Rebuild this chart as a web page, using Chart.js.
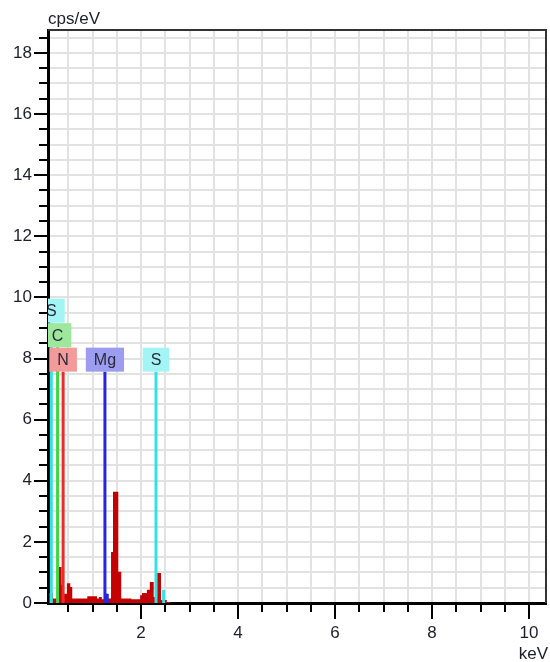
<!DOCTYPE html>
<html>
<head>
<meta charset="utf-8">
<script src="https://cdn.jsdelivr.net/npm/chart.js@4.4.1/dist/chart.umd.min.js"></script>
<style>
  html, body { margin: 0; padding: 0; background: #ffffff; }
  #wrap { width: 550px; height: 662px; position: relative; }
</style>
</head>
<body>
<div id="wrap"><canvas id="spec" width="550" height="662"></canvas></div>
<script>
// EDS spectrum: channel start energy (keV) and intensity (cps/eV)
const spectrumEnergy = [0.10, 0.18, 0.27, 0.36, 0.40, 0.47, 0.54, 0.58, 0.89, 1.09, 1.13, 1.19, 1.24, 1.31, 1.38, 1.42, 1.53, 1.59, 1.80, 1.98, 2.02, 2.12, 2.18, 2.26, 2.33, 2.41, 2.53, 2.60];
const spectrumCps    = [0.33, 0.15, 1.18, 0.60, 0.30, 0.65, 0.52, 0.15, 0.22, 0.15, 0.20, 0.12, 0.30, 0.15, 1.67, 3.64, 1.02, 0.15, 0.12, 0.25, 0.33, 0.43, 0.69, 0.20, 0.98, 0.10, 0.03, 0.00];

// Identified element lines (labelled markers)
const markerElement = ['S', 'C', 'N', 'Mg', 'S'];
const markerEnergy  = [0.149, 0.277, 0.392, 1.254, 2.307];

// Secondary lines (short markers, no label)
const minorElement = ['Mg', 'S'];
const minorEnergy  = [1.302, 2.464];
const minorCps     = [0.30, 0.43];

// Axis tick labelling
const xTickLabels = [2, 4, 6, 8, 10];
const yTickLabels = [0, 2, 4, 6, 8, 10, 12, 14, 16, 18];

const elementStyle = {
  S:  { line: '#33e3e3', box: '#a3f5f5' },
  C:  { line: '#3fd83f', box: '#9de89d' },
  N:  { line: '#ee2b2b', box: '#f39a9a' },
  Mg: { line: '#2626e0', box: '#9c9cf0' }
};

const FONT = '"Liberation Sans", Arial, sans-serif';
const TEXT = '#1e1e2a';

const edsPlugin = {
  id: 'edsDecor',
  afterDatasetsDraw(chart, args, opts) {
    const { ctx, chartArea: ca, scales: { x, y } } = chart;
    const y0 = y.getPixelForValue(0);
    ctx.save();
    ctx.beginPath();
    ctx.rect(ca.left, ca.top, ca.right - ca.left, ca.bottom - ca.top);
    ctx.clip();

    // short secondary lines
    ctx.lineWidth = 3;
    minorEnergy.forEach((e, i) => {
      const px = x.getPixelForValue(e);
      ctx.strokeStyle = elementStyle[minorElement[i]].line;
      ctx.beginPath();
      ctx.moveTo(px, y0);
      ctx.lineTo(px, y.getPixelForValue(minorCps[i]));
      ctx.stroke();
    });

    // label placement: stack upward when boxes collide
    ctx.font = '16px ' + FONT;
    const items = markerEnergy.map((e, i) => ({ e, el: markerElement[i], px: x.getPixelForValue(e) }));
    items.sort((a, b) => b.e - a.e);
    const placed = [];
    const boxH = 24, rowStep = 24.5;
    const baseY = y.getPixelForValue(opts.labelBaseCps);
    items.forEach(it => {
      const w = ctx.measureText(it.el).width + 16;
      it.l = it.px - w / 2; it.r = it.px + w / 2;
      let row = 0;
      while (placed.some(p => p.row === row && p.l < it.r && it.l < p.r)) row++;
      it.row = row;
      it.bottom = baseY - row * rowStep;
      placed.push(it);
    });

    // marker lines
    items.forEach(it => {
      ctx.strokeStyle = elementStyle[it.el].line;
      ctx.lineWidth = 3;
      ctx.beginPath();
      ctx.moveTo(it.px, y0);
      ctx.lineTo(it.px, it.bottom);
      ctx.stroke();
    });

    // label boxes
    items.forEach(it => {
      ctx.fillStyle = elementStyle[it.el].box;
      ctx.fillRect(it.l, it.bottom - boxH, it.r - it.l, boxH);
      ctx.fillStyle = '#2a2a3a';
      ctx.textAlign = 'center';
      ctx.textBaseline = 'middle';
      ctx.fillText(it.el, it.px, it.bottom - boxH / 2 + 1);
    });
    ctx.restore();
  },
  afterDraw(chart) {
    const { ctx, chartArea: ca, scales: { x, y } } = chart;
    ctx.save();
    // tick marks
    ctx.strokeStyle = '#000';
    ctx.lineWidth = 2;
    y.ticks.forEach(t => {
      const py = Math.round(y.getPixelForValue(t.value));
      const len = (t.value % 2 === 0) ? 13 : 8;
      ctx.beginPath();
      ctx.moveTo(ca.left - 1 - len, py);
      ctx.lineTo(ca.left, py);
      ctx.stroke();
    });
    x.ticks.forEach(t => {
      const px = Math.round(x.getPixelForValue(t.value));
      const len = (t.value % 2 === 0) ? 15 : 8;
      ctx.beginPath();
      ctx.moveTo(px, ca.bottom);
      ctx.lineTo(px, ca.bottom + 1 + len);
      ctx.stroke();
    });
    // top and right frame
    ctx.strokeStyle = '#333';
    ctx.lineWidth = 2;
    ctx.beginPath();
    ctx.moveTo(ca.left, ca.top);
    ctx.lineTo(ca.right, ca.top);
    ctx.lineTo(ca.right, ca.bottom);
    ctx.stroke();
    // axis units
    ctx.fillStyle = TEXT;
    ctx.font = '17px ' + FONT;
    ctx.textAlign = 'left';
    ctx.textBaseline = 'alphabetic';
    ctx.fillText('cps/eV', ca.left, ca.top - 6);
    ctx.textAlign = 'right';
    ctx.fillText('keV', ca.right + 2, 659);
    ctx.restore();
  }
};

new Chart(document.getElementById('spec'), {
  type: 'line',
  data: {
    datasets: [{
      label: 'Spectrum',
      data: spectrumEnergy.map((e, i) => ({ x: e, y: spectrumCps[i] })),
      stepped: 'before',
      fill: 'origin',
      backgroundColor: '#c40000',
      borderColor: '#c40000',
      borderWidth: 0,
      pointRadius: 0
    }]
  },
  options: {
    responsive: false,
    animation: false,
    events: [],
    layout: { padding: { top: 30, right: 4, left: 0, bottom: 0 } },
    plugins: {
      legend: { display: false },
      tooltip: { enabled: false },
      edsDecor: { labelBaseCps: 7.57 }
    },
    scales: {
      x: {
        type: 'linear',
        min: 0.08,
        max: 10.35,
        afterFit: s => { s.height = 59; s.paddingLeft = 0; s.paddingRight = 0; },
        grid: { color: '#e2e2e2', lineWidth: 2, drawTicks: false },
        border: { display: true, color: '#000', width: 3 },
        ticks: {
          stepSize: 0.5,
          includeBounds: false,
          autoSkip: false,
          maxRotation: 0,
          padding: 20,
          color: TEXT,
          font: { family: FONT, size: 17 },
          callback: v => xTickLabels.includes(v) ? String(v) : ''
        }
      },
      y: {
        type: 'linear',
        min: 0,
        max: 18.75,
        afterFit: s => { s.width = 48; s.paddingTop = 0; s.paddingBottom = 0; },
        grid: { color: '#e2e2e2', lineWidth: 2, drawTicks: false },
        border: { display: true, color: '#000', width: 3 },
        ticks: {
          stepSize: 0.5,
          includeBounds: false,
          autoSkip: false,
          padding: 16,
          color: TEXT,
          font: { family: FONT, size: 17 },
          callback: v => yTickLabels.includes(v) ? String(v) : ''
        }
      }
    }
  },
  plugins: [edsPlugin]
});
</script>
</body>
</html>
